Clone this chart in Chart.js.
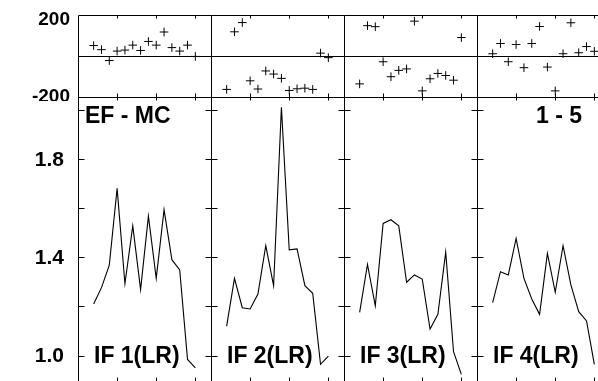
<!DOCTYPE html>
<html><head><meta charset="utf-8">
<script src="https://cdn.jsdelivr.net/npm/chart.js@4"></script>
<style>
html,body{margin:0;padding:0;width:598px;height:381px;overflow:hidden;background:#fff;position:relative;}
canvas{position:absolute;}
</style></head><body>
<script>
// ---- data ----
const xValues = [2,3,4,5,6,7,8,9,10,11,12,13,14,15];
const panelNames = ['IF 1(LR)','IF 2(LR)','IF 3(LR)','IF 4(LR)'];
const diffIF1 = [51,31,-22,24,29,53,27,71,53,117,41,24,53,-2];
const diffIF2 = [-163,118,163,-121,-161,-73,-88,-109,-168,-160,-157,-163,14,-8];
const diffIF3 = [-136,148,143,-28,-101,-70,-63,170,-170,-111,-85,-95,-118,90];
const diffIF4 = [11,61,-28,56,-57,61,144,-54,-170,11,162,16,46,23];
const ratioIF1 = [1.212,1.279,1.371,1.684,1.295,1.531,1.271,1.571,1.317,1.597,1.393,1.351,0.986,0.952];
const ratioIF2 = [1.122,1.317,1.197,1.192,1.253,1.450,1.287,2.015,1.433,1.437,1.287,1.256,0.966,1.000];
const ratioIF3 = [1.178,1.374,1.205,1.541,1.556,1.531,1.301,1.331,1.314,1.110,1.170,1.424,1.018,0.925];
const ratioIF4 = [1.218,1.344,1.331,1.480,1.317,1.233,1.170,1.419,1.260,1.450,1.290,1.181,1.143,0.966];
const xTickValues = [5,10,15];
const topTickValues = [-200,0,200];
const topTickLabels = ['-200','',['','200']];
const bottomTickValues = [1.0,1.2,1.4,1.6,1.8,2.0];
const bottomTickLabels = ['1.0','','1.4','','1.8',''];
const titleLeft = 'EF - MC';
const titleRight = '1 - 5';

const diffSeries = [diffIF1, diffIF2, diffIF3, diffIF4];
const ratioSeries = [ratioIF1, ratioIF2, ratioIF3, ratioIF4];

// ---- geometry ----
const PLOT_LEFT = 78, PANEL_W = 133;
const TOP_Y0 = 15, TOP_Y1 = 97, BOT_Y1 = 381;
const LABEL_FONT = "bold 23px 'Liberation Sans', Arial, sans-serif";

function crisp(v){ return Math.floor(v) + 0.5; }

const framePlugin = {
  id: 'frame',
  afterDatasetsDraw(chart, args, opts) {
    const ctx = chart.ctx, a = chart.chartArea;
    const xs = chart.scales.x, ys = chart.scales.y;
    const L = crisp(a.left), R = crisp(a.right), T = crisp(a.top), B = crisp(a.bottom);
    ctx.save();
    ctx.strokeStyle = '#000';
    ctx.lineWidth = 1;
    const line = (x1,y1,x2,y2) => { ctx.beginPath(); ctx.moveTo(x1,y1); ctx.lineTo(x2,y2); ctx.stroke(); };
    line(L,T,R,T); line(L,B,R,B); line(L,T,L,B); line(R,T,R,B);
    xTickValues.forEach(v => {
      const px = crisp(xs.getPixelForValue(v));
      line(px, T, px, T + 3);
      line(px, B, px, B - 4);
    });
    if (opts.row === 1) {
      bottomTickValues.forEach(v => {
        const py = crisp(ys.getPixelForValue(v));
        line(L, py, L + 6, py);
        line(R, py, R - 6, py);
      });
      ctx.fillStyle = '#000';
      ctx.font = LABEL_FONT;
      ctx.textBaseline = 'alphabetic';
      ctx.textAlign = 'left';
      ctx.fillText(panelNames[opts.col], a.left + 16, a.top + 266);
      if (opts.col === 0) ctx.fillText(titleLeft, a.left + 7, a.top + 26);
      if (opts.col === 3) { ctx.textAlign = 'right'; ctx.fillText(titleRight, a.left + 105, a.top + 26); }
    }
    ctx.restore();
  }
};

function makePanel(col, row) {
  const c = document.createElement('canvas');
  const pad = 2;
  const areaLeft = PLOT_LEFT + col * PANEL_W;
  const left = col === 0 ? 0 : areaLeft - pad;
  const width = areaLeft + PANEL_W + pad - left;
  const top = row === 0 ? 0 : TOP_Y1 - pad;
  const areaTop = row === 0 ? TOP_Y0 : TOP_Y1;
  const areaBottom = row === 0 ? TOP_Y1 : BOT_Y1;
  const height = areaBottom + 4 - top;
  c.width = width; c.height = height;
  c.style.left = left + 'px'; c.style.top = top + 'px';
  c.style.width = width + 'px'; c.style.height = height + 'px';
  document.body.appendChild(c);

  const series = row === 0 ? diffSeries[col] : ratioSeries[col];
  const tickVals = row === 0 ? topTickValues : bottomTickValues;
  const tickLabels = row === 0 ? topTickLabels : bottomTickLabels;

  const dataset = row === 0 ? {
    data: xValues.map((x, i) => ({x, y: series[i]})),
    showLine: false,
    pointStyle: 'cross',
    pointRadius: 4.3,
    pointBorderWidth: 1,
    borderColor: '#000',
    pointBorderColor: '#000',
    backgroundColor: '#000'
  } : {
    data: xValues.map((x, i) => ({x, y: series[i]})),
    borderColor: '#000',
    borderWidth: 1.1,
    pointRadius: 0,
    tension: 0,
    fill: false
  };

  new Chart(c, {
    type: row === 0 ? 'scatter' : 'line',
    data: { datasets: [dataset] },
    options: {
      responsive: false,
      animation: false,
      events: [],
      layout: { autoPadding: false, padding: { left: col === 0 ? 0 : pad, right: pad, top: areaTop - top, bottom: 4 } },
      plugins: { legend: { display: false }, tooltip: { enabled: false }, frame: { row, col } },
      scales: {
        x: { type: 'linear', min: 0, max: 17, display: false },
        y: {
          type: 'linear',
          min: row === 0 ? -200 : 0.898,
          max: row === 0 ? 200 : 2.057,
          display: true,
          position: 'left',
          afterBuildTicks: s => { s.ticks = tickVals.map(v => ({ value: v })); },
          afterFit: s => {
            s.width = col === 0 ? PLOT_LEFT : 0;
            s.paddingTop = 0; s.paddingBottom = 0; s.paddingLeft = 0; s.paddingRight = 0;
          },
          grid: {
            drawTicks: false,
            lineWidth: 1,
            color: ctx => (row === 0 && ctx.tick && ctx.tick.value === 0) ? '#000' : 'rgba(0,0,0,0)'
          },
          border: { display: false },
          ticks: {
            display: col === 0,
            padding: row === 0 ? 8 : 14,
            color: '#000',
            font: ctx => ({
              family: "'Liberation Sans', Arial, sans-serif",
              weight: 'bold',
              size: row === 0 ? 19 : 21,
              lineHeight: (row === 0 && ctx.tick && ctx.tick.value === 200) ? 0.52 : 1.2
            }),
            callback: (v, i) => tickLabels[i]
          }
        }
      }
    },
    plugins: [framePlugin]
  });
}

for (let col = 0; col < 4; col++) { makePanel(col, 0); makePanel(col, 1); }
</script>
</body></html>
